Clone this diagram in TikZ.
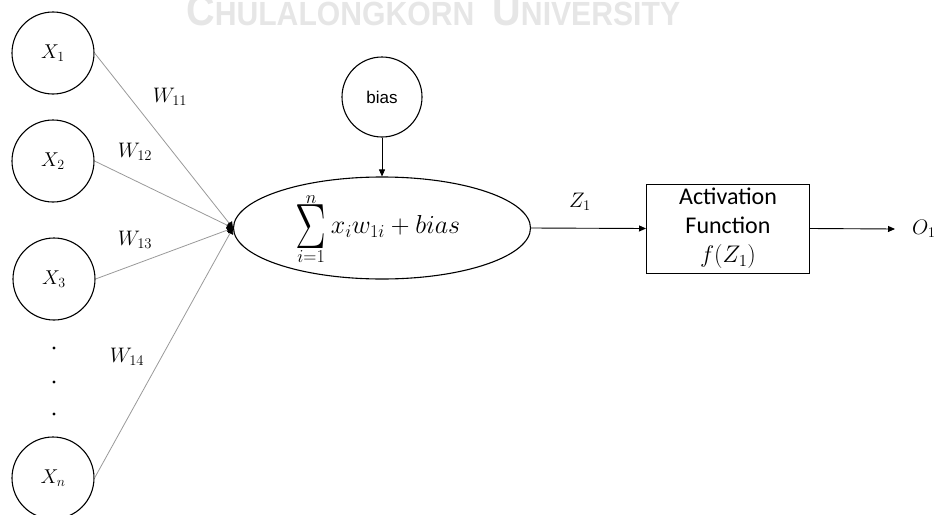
\RequirePackage{fix-cm}
\documentclass[tikz,border=0pt]{standalone}
\usepackage{graphicx}
\usepackage[no-math]{fontspec}
\usetikzlibrary{arrows.meta,shapes.geometric}
\newfontfamily\calib{Carlito}
\newfontfamily\arialf{Liberation Sans}
\definecolor{wmgray}{HTML}{E6E6E6}
\newcommand{\bigsig}{\mathop{\vcenter{\hbox{\scalebox{0.72}[1]{\fontsize{64}{64}\selectfont$\Sigma$}}}}\limits}
\begin{document}
\begin{tikzpicture}[x=1pt,y=-1pt,
  inp/.style={circle,draw,line width=1.1pt,minimum size=82pt,inner sep=0pt},
  wire/.style={draw=gray!80,line width=0.8pt,-{Triangle[length=6pt,width=7pt,color=black]}},
  arr/.style={line width=0.9pt,-{Triangle[length=7pt,width=6pt]}},
  mlab/.style={inner sep=0pt,font=\fontsize{21}{21}\selectfont},
  dotn/.style={circle,fill,inner sep=0pt,minimum size=3.2pt}]
\useasboundingbox (0,0) rectangle (936,514);
% watermark
\node[anchor=base west,inner sep=0pt,text=wmgray,xscale=0.9,font=\arialf\bfseries] (wm) at (186,25)
  {\fontsize{44}{44}\selectfont C\fontsize{33.5}{33.5}\selectfont HULALONGKORN\hspace{20pt}\fontsize{44}{44}\selectfont U\fontsize{33.5}{33.5}\selectfont NIVERSITY};
% inputs
\node[inp] (x1) at (53,53) {\fontsize{20}{20}\selectfont$X_1$};
\node[inp] (x2) at (53,161) {\fontsize{20}{20}\selectfont$X_2$};
\node[inp] (x3) at (54,279) {\fontsize{20}{20}\selectfont$X_3$};
\node[inp] (xn) at (53,478) {\fontsize{20}{20}\selectfont$X_n$};
\node[dotn] (d1) at (54,348) {};
\node[dotn] (d2) at (54,382) {};
\node[dotn] (d3) at (54,414) {};
% summation
\node[ellipse,draw,line width=1.1pt,minimum width=297pt,minimum height=102pt,inner sep=0pt] (sum) at (382,228) {};
\node[inner sep=0pt,font=\fontsize{26}{26}\selectfont] (sumtxt) at (378,229)
  {$\displaystyle\bigsig_{i=1}^{n} x_i w_{1i} + bias$};
\node[circle,draw,line width=1.1pt,minimum size=80pt,inner sep=0pt] (bias) at (382,97)
  {\arialf\fontsize{17}{17}\selectfont bias};
% activation
\node[draw,line width=1pt,minimum width=163pt,minimum height=89pt,align=center,inner sep=0pt,
  font=\calib\fontsize{24}{29}\selectfont] (act) at (728,228.5)
  {Activation\\Function\\$f(Z_1)$};
\coordinate (out) at (895,229);
\node[mlab,anchor=west] (o1) at (912,229) {$O_1$};
% connectors
\draw[wire] (x1.east) -- (sum.west);
\draw[wire] (x2.east) -- (sum.west);
\draw[wire] (x3.east) -- (sum.west);
\draw[wire] (xn.east) -- (sum.west);
\draw[arr] (bias.south) -- (sum.north);
\draw[arr] (sum.east) -- (act.west);
\draw[arr] (act.east) -- (out);
% labels
\node[mlab] (w11) at (170,97) {$W_{11}$};
\node[mlab] (w12) at (135,152) {$W_{12}$};
\node[mlab] (w13) at (135,240) {$W_{13}$};
\node[mlab] (w14) at (127,357) {$W_{14}$};
\node[mlab] (z1) at (580,202) {$Z_1$};
\end{tikzpicture}
\end{document}
